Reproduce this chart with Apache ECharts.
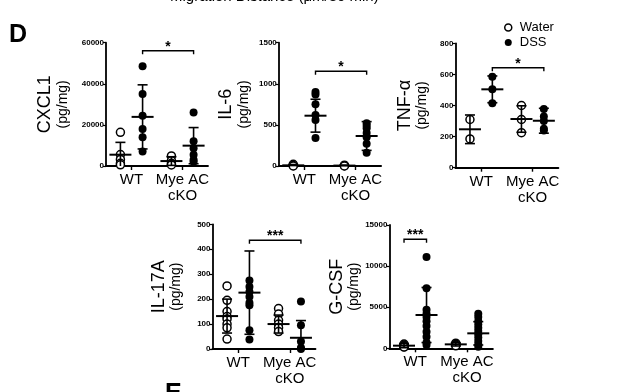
<!DOCTYPE html>
<html>
<head>
<meta charset="utf-8">
<script src="https://cdn.jsdelivr.net/npm/echarts@6/dist/echarts.min.js"></script>
<style>
html,body{margin:0;padding:0;background:#fff;}
#c{width:642px;height:392px;}
</style>
</head>
<body>
<div id="c"></div>
<script>
// ---- data ----
const groupX = [1, 2, 3.3, 4.3];              // WT-Water, WT-DSS, Mye-Water, Mye-DSS
const groupSeries = ['Water', 'DSS', 'Water', 'DSS'];
const catLabels = ['WT', 'Mye AC\ncKO'];
const panelNames = ['CXCL1', 'IL-6', 'TNF-α', 'IL-17A', 'G-CSF'];
const yMax = [60000, 1500, 800, 500, 15000];
const yStep = [20000, 500, 200, 100, 5000];

const cxcl1Points = [[16400, 5600, 3200, 1300, 600], [48500, 35000, 24500, 18000, 14000, 7000], [4900, 2600, 1300, 500], [26000, 12000, 8600, 5500, 3000, 2100]];
const cxcl1Mean = [5500, 23900, 2400, 9900];
const cxcl1Err = [6000, 15600, 2100, 8800];
const cxcl1Sig = [2, 4.3, 56100, '*'];

const il6Points = [[20, 5, 0], [900, 870, 750, 620, 560, 340], [10, 3, 0], [520, 490, 460, 400, 350, 270, 160]];
const il6Mean = [8, 612, 5, 365];
const il6Err = [10, 200, 5, 175];
const il6Sig = [2, 4.3, 1152, '*'];

const tnfPoints = [[310, 185], [585, 505, 415], [400, 310, 225], [378, 330, 300, 250, 240]];
const tnfMean = [247, 504, 313, 302];
const tnfErr = [92, 86, 85, 80];
const tnfSig = [2, 4.3, 643, '*'];

const il17Points = [[253, 195, 150, 130, 120, 100, 85, 40], [275, 250, 230, 210, 185, 175, 75, 38], [162, 140, 115, 100, 85, 70], [190, 95, 30, 5, 0]];
const il17Mean = [132, 226, 100, 45];
const il17Err = [68, 167, 36, 69];
const il17Sig = [2, 4.3, 436, '***'];

const gcsfPoints = [[520, 400, 300, 200, 150], [11100, 7300, 4700, 4200, 3800, 3300, 2700, 2000, 1400, 700, 400], [620, 500, 400, 300], [4200, 3800, 3300, 2900, 2500, 2100, 1700, 1300, 900, 500, 200]];
const gcsfMean = [320, 4050, 480, 1820];
const gcsfErr = [250, 3350, 200, 1420];
const gcsfSig = [1, 2, 13260, '***'];

const allPoints = [cxcl1Points, il6Points, tnfPoints, il17Points, gcsfPoints];
const allMean = [cxcl1Mean, il6Mean, tnfMean, il17Mean, gcsfMean];
const allErr = [cxcl1Err, il6Err, tnfErr, il17Err, gcsfErr];
const allSig = [cxcl1Sig, il6Sig, tnfSig, il17Sig, gcsfSig];

// ---- layout / style ----
const FONT = '"Liberation Sans", Arial, Helvetica, sans-serif';
const gridLayout = [
  {left: 106, top: 42.7, width: 102, height: 123.3},
  {left: 278.8, top: 42.7, width: 102.3, height: 123.3},
  {left: 455.4, top: 43.3, width: 103, height: 124.4},
  {left: 212.5, top: 224.3, width: 103, height: 124.7},
  {left: 389.4, top: 225, width: 103.5, height: 123.3}
];
const nameGaps = [35, 27, 25, 28, 26];

const grids = [], xAxes = [], yAxes = [], series = [];

function renderErr(params, api) {
  const x = api.value(0), m = api.value(1), e = api.value(2);
  const c = api.coord([x, m]);
  const t = api.coord([x, m + e]);
  const lowV = Math.max(m - e, 0);
  const b = api.coord([x, lowV]);
  const hw = 11, cw = 5;
  const st = {stroke: '#000', lineWidth: 1.6};
  const children = [
    {type: 'line', shape: {x1: t[0], y1: t[1], x2: b[0], y2: b[1]}, style: st},
    {type: 'line', shape: {x1: t[0] - cw, y1: t[1], x2: t[0] + cw, y2: t[1]}, style: st},
    {type: 'line', shape: {x1: c[0] - hw, y1: c[1], x2: c[0] + hw, y2: c[1]}, style: {stroke: '#000', lineWidth: 2}}
  ];
  if (m - e > 0) {
    children.push({type: 'line', shape: {x1: b[0] - cw, y1: b[1], x2: b[0] + cw, y2: b[1]}, style: st});
  }
  return {type: 'group', children: children};
}

function makeRenderSig(label) {
  return function (params, api) {
    const a = api.coord([api.value(0), api.value(2)]);
    const b = api.coord([api.value(1), api.value(2)]);
    return {type: 'group', children: [
      {type: 'polyline', shape: {points: [[a[0], a[1] + 3.5], [a[0], a[1]], [b[0], b[1]], [b[0], b[1] + 3.5]]},
        style: {stroke: '#000', lineWidth: 1.4, fill: null}},
      {type: 'text', x: (a[0] + b[0]) / 2, y: a[1] + 3,
        style: {text: label, textAlign: 'center', textVerticalAlign: 'bottom', font: 'bold 14px ' + FONT, fill: '#000'}}
    ]};
  };
}

for (let p = 0; p < 5; p++) {
  const g = gridLayout[p];
  grids.push(Object.assign({containLabel: false, outerBoundsMode: 'none'}, g));
  // hidden value x-axis for positions
  xAxes.push({type: 'value', gridIndex: p, min: 0.35, max: 4.95, show: false});
  // category axis for labels and ticks
  xAxes.push({
    type: 'category', gridIndex: p, data: catLabels, position: 'bottom',
    axisLine: {show: true, lineStyle: {color: '#000', width: 1.8}},
    axisTick: {show: true, alignWithLabel: true, length: 4, interval: 0, lineStyle: {color: '#000', width: 1.4}},
    axisLabel: {fontFamily: FONT, fontSize: 15, color: '#000', margin: 6, lineHeight: 16, interval: 0, hideOverlap: false},
    splitLine: {show: false}
  });
  yAxes.push({
    type: 'value', gridIndex: p, min: 0, max: yMax[p], interval: yStep[p],
    axisLine: {show: true, lineStyle: {color: '#000', width: 1.8}},
    axisTick: {show: true, length: 3, lineStyle: {color: '#000', width: 1.2}},
    axisLabel: {fontFamily: FONT, fontSize: 8, fontWeight: 'bold', color: '#000', margin: 2,
      formatter: function (v) { return String(v); }},
    splitLine: {show: false},
    name: '{a|' + panelNames[p] + '}\n{b|(pg/mg)}',
    nameLocation: 'middle', nameRotate: 90, nameGap: nameGaps[p],
    nameTextStyle: {
      rich: {
        a: {fontFamily: FONT, fontSize: 18, color: '#000', lineHeight: 19, align: 'center'},
        b: {fontFamily: FONT, fontSize: 14, color: '#000', lineHeight: 16, align: 'center'}
      }
    }
  });
  const pts = allPoints[p];
  for (let gi = 0; gi < 4; gi++) {
    const isWater = groupSeries[gi] === 'Water';
    series.push({
      type: 'scatter', name: groupSeries[gi], xAxisIndex: p * 2, yAxisIndex: p,
      symbol: 'circle', symbolSize: 8, z: 2,
      itemStyle: isWater ? {color: '#fff', borderColor: '#000', borderWidth: 1.5, opacity: 1}
                         : {color: '#000', borderColor: '#000', borderWidth: 0, opacity: 1},
      data: pts[gi].map(v => [groupX[gi], v]),
      silent: true
    });
  }
  series.push({
    type: 'custom', xAxisIndex: p * 2, yAxisIndex: p, z: 3, silent: true,
    renderItem: renderErr, encode: {x: 0, y: 1},
    data: allMean[p].map((m, i) => [groupX[i], m, allErr[p][i]])
  });
  const s = allSig[p];
  series.push({
    type: 'custom', xAxisIndex: p * 2, yAxisIndex: p, z: 3, silent: true, clip: false,
    renderItem: makeRenderSig(s[3]), encode: {x: [0, 1], y: 2},
    data: [[s[0], s[1], s[2]]]
  });
}

const chart = echarts.init(document.getElementById('c'), null, {renderer: 'canvas'});
chart.setOption({
  backgroundColor: '#fff',
  animation: false,
  grid: grids,
  xAxis: xAxes,
  yAxis: yAxes,
  legend: {
    data: [
      {name: 'Water', itemStyle: {color: '#fff', borderColor: '#000', borderWidth: 1.5}},
      {name: 'DSS', itemStyle: {color: '#000'}}
    ],
    orient: 'vertical', left: 499, top: 16, itemWidth: 7, itemHeight: 7, itemGap: 2,
    icon: 'circle', selectedMode: false,
    textStyle: {fontFamily: FONT, fontSize: 13, color: '#000', padding: [0, 0, 0, 3]}
  },
  graphic: [
    {type: 'text', left: 170, top: -11, style: {text: 'Migration Distance (μm/30 min)', font: '15px ' + FONT, fill: '#000'}},
    {type: 'text', left: 9, top: 23, style: {text: 'D', font: 'bold 25px ' + FONT, fill: '#000'}},
    {type: 'text', left: 165, top: 382, style: {text: 'E', font: 'bold 25px ' + FONT, fill: '#000'}}
  ],
  series: series
});
</script>
</body>
</html>
